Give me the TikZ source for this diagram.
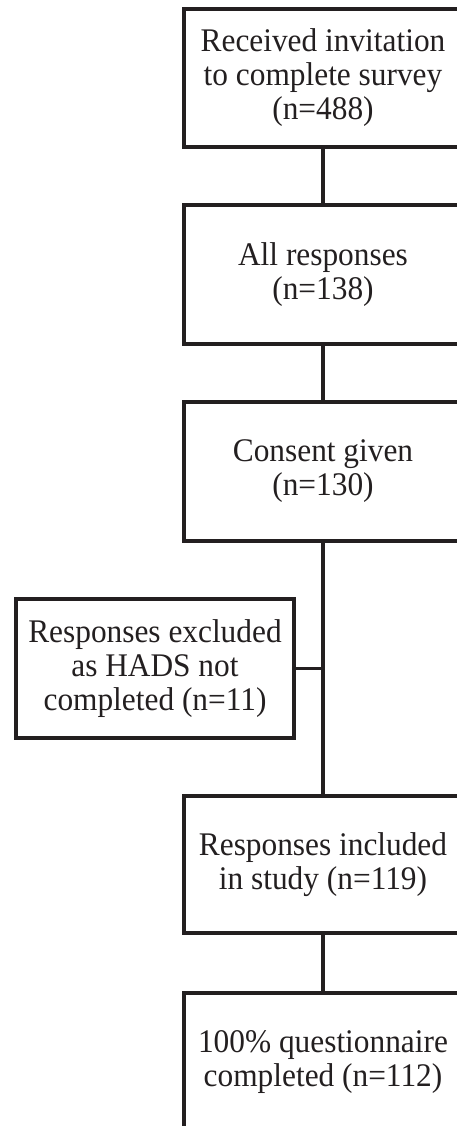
\documentclass[tikz,border=0pt]{standalone}
\usepackage{fontspec}
\setmainfont{Liberation Serif}[FakeStretch=0.95]
\definecolor{ink}{HTML}{231F20}
\begin{document}
\begin{tikzpicture}[x=1pt,y=-1pt,
  box/.style={draw=ink, line width=3.2pt, rectangle, minimum width=278pt,
    align=center, inner sep=0pt, text=ink,
    font=\fontsize{33}{34}\selectfont},
  link/.style={draw=ink, line width=3.2pt}]
\path[use as bounding box] (0,0) rectangle (457,1126);
\clip (0,0) rectangle (457,1126);
\fill[white] (0,0) rectangle (457,1126);
\node[box, minimum height=138pt] (b1) at (323,78) {Received invitation\\to complete survey\\(n=488)};
\node[box, minimum height=139pt] (b2) at (323,274.5) {All responses\\(n=138)};
\node[box, minimum height=139pt] (b3) at (323,471.5) {Consent given\\(n=130)};
\node[box, minimum height=139pt] (ex) at (155,668.5) {Responses excluded\\as HADS not\\completed (n=11)};
\node[box, minimum height=137pt] (b4) at (323,864.5) {Responses included\\in study (n=119)};
\node[box, minimum height=138pt] (b5) at (323,1062) {100\% questionnaire\\completed (n=112)};
\coordinate (j) at (ex.east -| b3.south);
\draw[link] (b1.south) -- (b2.north);
\draw[link] (b2.south) -- (b3.north);
\draw[link] (b3.south) -- (b4.north);
\draw[link] (ex.east) -- (j);
\draw[link] (b4.south) -- (b5.north);
\end{tikzpicture}
\end{document}
